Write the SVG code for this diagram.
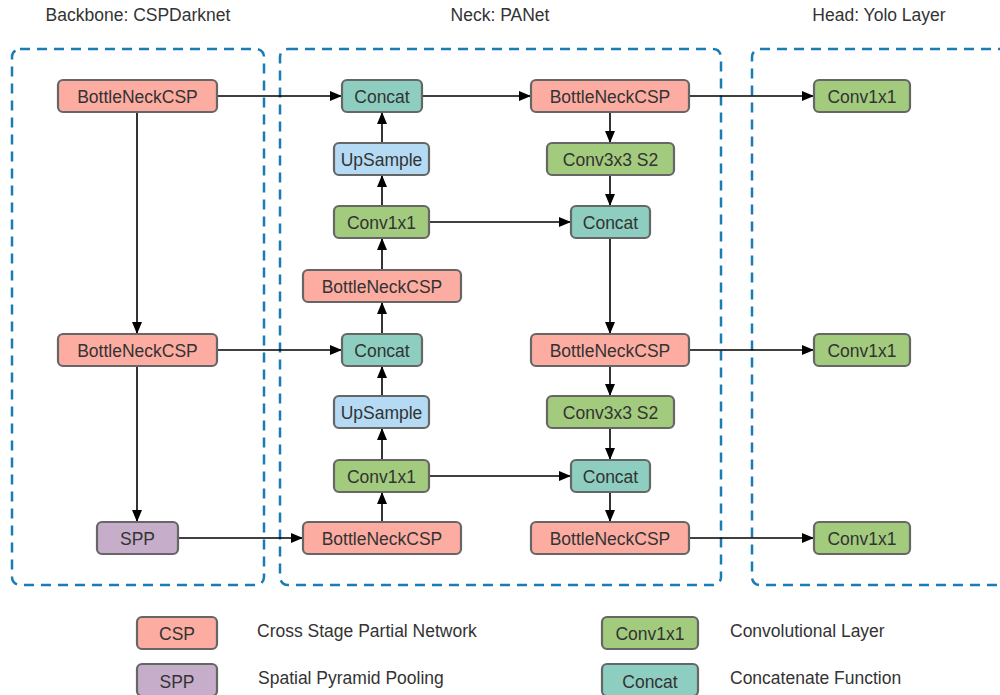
<svg xmlns="http://www.w3.org/2000/svg" width="1000" height="695" viewBox="0 0 1000 695">
  <style>
    .title { font-family: "Liberation Sans", Arial, sans-serif; font-size: 17.5px; fill: #333333; text-anchor: middle; }
    .lbl { font-family: "Liberation Sans", Arial, sans-serif; font-size: 17.5px; fill: #333333; text-anchor: middle; dominant-baseline: central; }
    .legend { font-family: "Liberation Sans", Arial, sans-serif; font-size: 17.5px; fill: #333333; }
    .stage { fill: none; stroke: #1b7bb5; stroke-width: 2.5; stroke-dasharray: 10 7; }
    .box { stroke: #666666; stroke-width: 2.2; }
    .csp { fill: #fdaca2; }
    .spp { fill: #c6aeca; }
    .conv { fill: #a2cb7e; }
    .cat { fill: #8dcec0; }
    .up { fill: #b4dbf3; }
    .edge { fill: none; stroke: #000000; stroke-width: 1.6; marker-end: url(#arrow); }
  </style>
  <defs>
    <marker id="arrow" viewBox="0 0 12 10" refX="12" refY="5" markerWidth="12" markerHeight="10" markerUnits="userSpaceOnUse" orient="auto">
      <path d="M0,0 L12,5 L0,10 Z" fill="#000000"/>
    </marker>
  </defs>
  <rect width="1000" height="695" fill="#ffffff"/>

  <!-- stage titles -->
  <text class="title" x="138" y="21">Backbone: CSPDarknet</text>
  <text class="title" x="500" y="21">Neck: PANet</text>
  <text class="title" x="879" y="21">Head: Yolo Layer</text>

  <!-- stage frames -->
  <g id="stages">
    <rect class="stage" x="12" y="49" width="252" height="536" rx="8"/>
    <rect class="stage" x="280" y="49" width="441" height="536" rx="8"/>
    <rect class="stage" x="752" y="49" width="270" height="536" rx="8"/>
  </g>

  <!-- connectors -->
  <g id="connectors">
    <path class="edge" d="M217,96 H342"/>
    <path class="edge" d="M137,112 V334"/>
    <path class="edge" d="M217,350 H342"/>
    <path class="edge" d="M137,366 V522"/>
    <path class="edge" d="M178,538 H303"/>
    <path class="edge" d="M382,522 V492"/>
    <path class="edge" d="M382,460 V428"/>
    <path class="edge" d="M382,396 V366"/>
    <path class="edge" d="M382,334 V302"/>
    <path class="edge" d="M382,270 V238"/>
    <path class="edge" d="M382,206 V175"/>
    <path class="edge" d="M382,143 V112"/>
    <path class="edge" d="M422,96 H531"/>
    <path class="edge" d="M610,112 V143"/>
    <path class="edge" d="M610,175 V206"/>
    <path class="edge" d="M429,222 H571"/>
    <path class="edge" d="M610,238 V334"/>
    <path class="edge" d="M610,366 V396"/>
    <path class="edge" d="M610,428 V460"/>
    <path class="edge" d="M429,476 H571"/>
    <path class="edge" d="M610,492 V522"/>
    <path class="edge" d="M689,96 H814"/>
    <path class="edge" d="M689,350 H814"/>
    <path class="edge" d="M689,538 H814"/>
  </g>

  <!-- backbone -->
  <g id="bb-csp1"><rect class="box csp" x="58" y="80" width="159" height="32" rx="5"/><text class="lbl" x="137.5" y="97">BottleNeckCSP</text></g>
  <g id="bb-csp2"><rect class="box csp" x="58" y="334" width="159" height="32" rx="5"/><text class="lbl" x="137.5" y="351">BottleNeckCSP</text></g>
  <g id="bb-spp"><rect class="box spp" x="97" y="522" width="81" height="32" rx="5"/><text class="lbl" x="137.5" y="539">SPP</text></g>

  <!-- neck, top-down path -->
  <g id="nk-concat1"><rect class="box cat" x="342" y="80" width="80" height="32" rx="5"/><text class="lbl" x="382" y="97">Concat</text></g>
  <g id="nk-up1"><rect class="box up" x="334" y="143" width="95" height="32" rx="5"/><text class="lbl" x="381.5" y="160">UpSample</text></g>
  <g id="nk-conv1"><rect class="box conv" x="334" y="206" width="95" height="32" rx="5"/><text class="lbl" x="381.5" y="223">Conv1x1</text></g>
  <g id="nk-csp1"><rect class="box csp" x="303" y="270" width="158" height="32" rx="5"/><text class="lbl" x="382" y="287">BottleNeckCSP</text></g>
  <g id="nk-concat2"><rect class="box cat" x="342" y="334" width="80" height="32" rx="5"/><text class="lbl" x="382" y="351">Concat</text></g>
  <g id="nk-up2"><rect class="box up" x="334" y="396" width="95" height="32" rx="5"/><text class="lbl" x="381.5" y="413">UpSample</text></g>
  <g id="nk-conv2"><rect class="box conv" x="334" y="460" width="95" height="32" rx="5"/><text class="lbl" x="381.5" y="477">Conv1x1</text></g>
  <g id="nk-csp2"><rect class="box csp" x="303" y="522" width="158" height="32" rx="5"/><text class="lbl" x="382" y="539">BottleNeckCSP</text></g>

  <!-- neck, bottom-up path -->
  <g id="nk-csp3"><rect class="box csp" x="531" y="80" width="158" height="32" rx="5"/><text class="lbl" x="610" y="97">BottleNeckCSP</text></g>
  <g id="nk-down1"><rect class="box conv" x="547" y="143" width="127" height="32" rx="5"/><text class="lbl" x="610.5" y="160">Conv3x3 S2</text></g>
  <g id="nk-concat3"><rect class="box cat" x="571" y="206" width="79" height="32" rx="5"/><text class="lbl" x="610.5" y="223">Concat</text></g>
  <g id="nk-csp4"><rect class="box csp" x="531" y="334" width="158" height="32" rx="5"/><text class="lbl" x="610" y="351">BottleNeckCSP</text></g>
  <g id="nk-down2"><rect class="box conv" x="547" y="396" width="127" height="32" rx="5"/><text class="lbl" x="610.5" y="413">Conv3x3 S2</text></g>
  <g id="nk-concat4"><rect class="box cat" x="571" y="460" width="79" height="32" rx="5"/><text class="lbl" x="610.5" y="477">Concat</text></g>
  <g id="nk-csp5"><rect class="box csp" x="531" y="522" width="158" height="32" rx="5"/><text class="lbl" x="610" y="539">BottleNeckCSP</text></g>

  <!-- head -->
  <g id="hd-conv1"><rect class="box conv" x="814" y="80" width="96" height="32" rx="5"/><text class="lbl" x="862" y="97">Conv1x1</text></g>
  <g id="hd-conv2"><rect class="box conv" x="814" y="334" width="96" height="32" rx="5"/><text class="lbl" x="862" y="351">Conv1x1</text></g>
  <g id="hd-conv3"><rect class="box conv" x="814" y="522" width="96" height="32" rx="5"/><text class="lbl" x="862" y="539">Conv1x1</text></g>

  <!-- legend -->
  <g id="legend-csp"><rect class="box csp" x="137" y="617" width="80" height="32" rx="5"/><text class="lbl" x="177" y="634">CSP</text><text class="legend" x="257" y="637">Cross Stage Partial Network</text></g>
  <g id="legend-spp"><rect class="box spp" x="137" y="664" width="80" height="32" rx="5"/><text class="lbl" x="177" y="682">SPP</text><text class="legend" x="258" y="684">Spatial Pyramid Pooling</text></g>
  <g id="legend-conv"><rect class="box conv" x="602" y="617" width="96" height="32" rx="5"/><text class="lbl" x="650" y="634">Conv1x1</text><text class="legend" x="730" y="637">Convolutional Layer</text></g>
  <g id="legend-concat"><rect class="box cat" x="602" y="664" width="96" height="32" rx="5"/><text class="lbl" x="650" y="682">Concat</text><text class="legend" x="730" y="684">Concatenate Function</text></g>
</svg>
